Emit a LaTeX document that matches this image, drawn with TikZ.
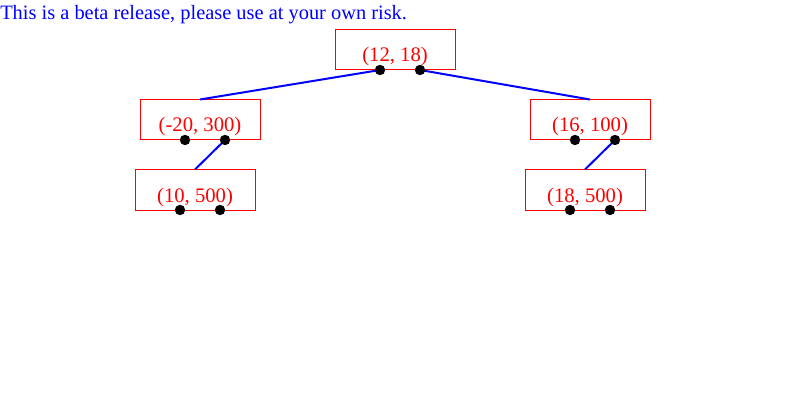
\documentclass[tikz,border=0pt]{standalone}
\usepackage{fontspec}
\setmainfont{Liberation Serif}
\begin{document}
\begin{tikzpicture}[x=0.75pt,y=-0.75pt,
  box/.style={draw=red,line width=0.75pt,minimum width=90pt,minimum height=30pt,inner sep=0pt},
  lbl/.style={text=red,font=\fontsize{15.5pt}{18pt}\selectfont,anchor=base,inner sep=0pt},
  dot/.style={circle,fill=black,minimum size=7.8pt,inner sep=0pt},
  edge/.style={draw=blue,line width=1.5pt}]
\useasboundingbox (0,0) rectangle (790,410);
\node[anchor=base west,inner sep=0pt,text=blue,font=\fontsize{15.3pt}{18pt}\selectfont] (title) at (0,20) {This is a beta release, please use at your own risk.};
% boxes
\node[box] (n1) at (395,50) {};
\node[box] (n2) at (200,120) {};
\node[box] (n3) at (195,190) {};
\node[box] (n4) at (590,120) {};
\node[box] (n5) at (585,190) {};
% labels
\node[lbl] (t1) at (395,62) {(12, 18)};
\node[lbl] (t2) at (200,132) {(-20, 300)};
\node[lbl] (t3) at (195,202) {(10, 500)};
\node[lbl] (t4) at (590,132) {(16, 100)};
\node[lbl] (t5) at (585,202) {(18, 500)};
% dot positions
\foreach \n/\x/\y in {n1/395/70,n2/200/140,n3/195/210,n4/590/140,n5/585/210}{
  \coordinate (\n l) at (\x-15,\y);
  \coordinate (\n r) at (\x+25,\y);
}
% edges
\draw[edge] (n1l) -- (n2.north);
\draw[edge] (n1r) -- (n4.north);
\draw[edge] (n2r) -- (n3.north);
\draw[edge] (n4r) -- (n5.north);
% dots
\foreach \n in {n1,n2,n3,n4,n5}{
  \node[dot] (\n dl) at (\n l) {};
  \node[dot] (\n dr) at (\n r) {};
}
\end{tikzpicture}
\end{document}
